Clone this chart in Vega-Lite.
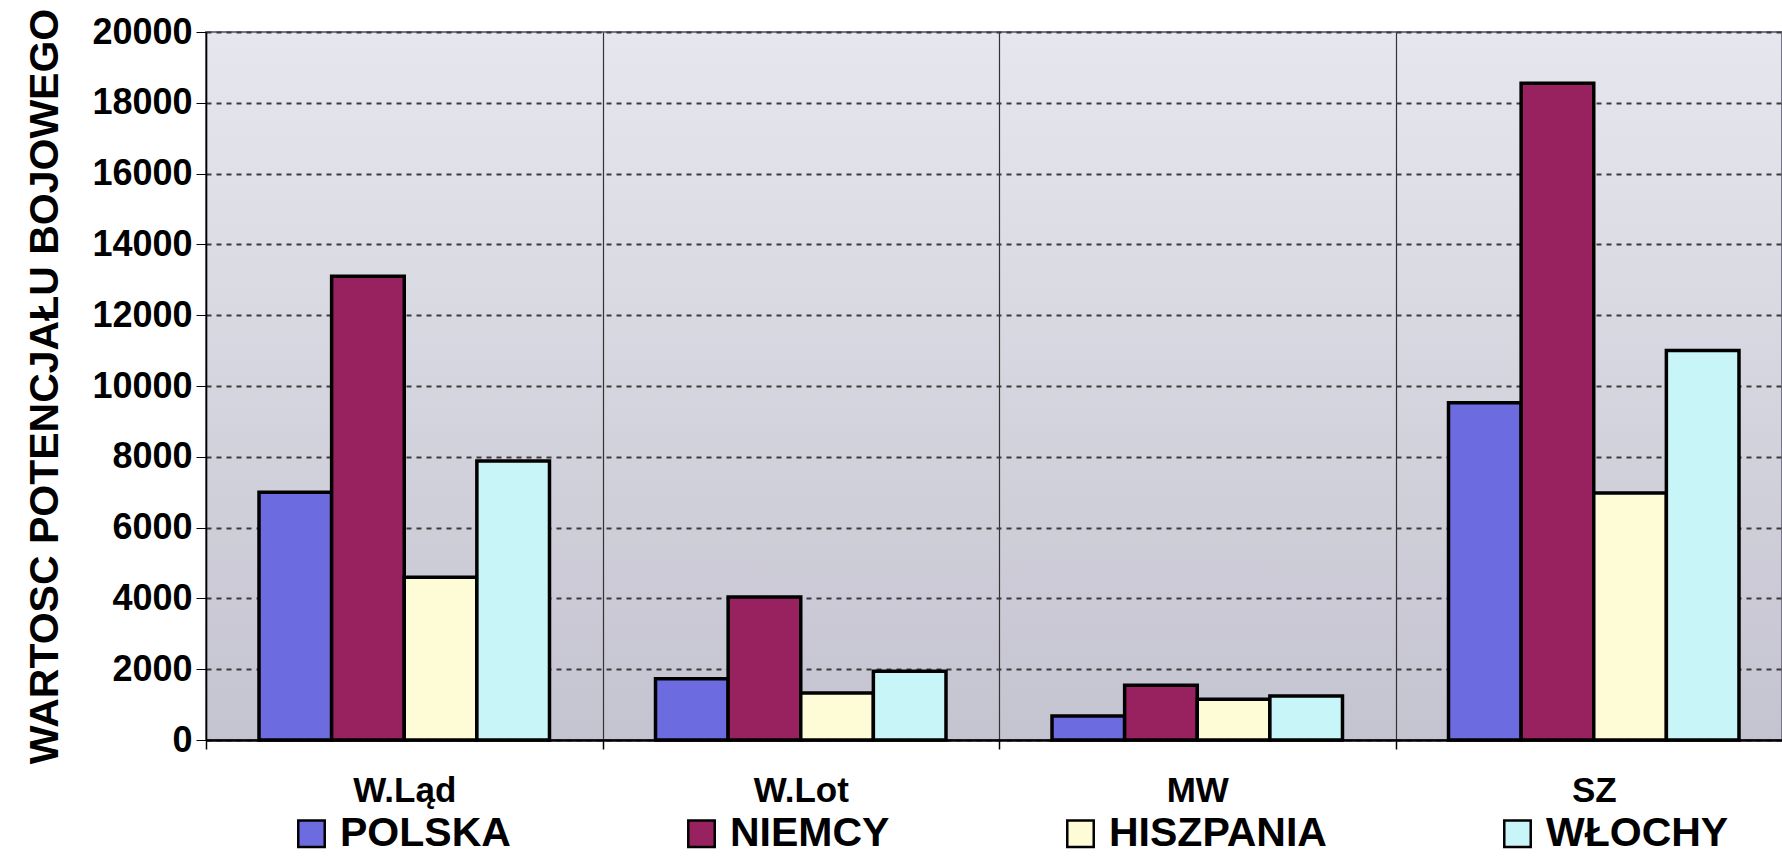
{
  "$schema": "https://vega.github.io/schema/vega-lite/v6.json",
  "autosize": "none",
  "width": 1576,
  "height": 708,
  "padding": {"left": 206, "top": 32, "right": 0, "bottom": 118},
  "background": "white",
  "config": {
    "font": "Liberation Sans",
    "view": {
      "fill": {"gradient": "linear", "x1": 0, "y1": 0, "x2": 0, "y2": 1, "stops": [{"offset": 0, "color": "#e6e7ee"}, {"offset": 1, "color": "#c4c3d0"}]},
      "stroke": "#77738a",
      "strokeWidth": 2
    }
  },
  "data": {
    "values": [
      {"kategoria": "W.Ląd", "kraj": "POLSKA", "wartosc": 7000},
      {"kategoria": "W.Ląd", "kraj": "NIEMCY", "wartosc": 13100},
      {"kategoria": "W.Ląd", "kraj": "HISZPANIA", "wartosc": 4600},
      {"kategoria": "W.Ląd", "kraj": "WŁOCHY", "wartosc": 7880},
      {"kategoria": "W.Lot", "kraj": "POLSKA", "wartosc": 1730},
      {"kategoria": "W.Lot", "kraj": "NIEMCY", "wartosc": 4040},
      {"kategoria": "W.Lot", "kraj": "HISZPANIA", "wartosc": 1330},
      {"kategoria": "W.Lot", "kraj": "WŁOCHY", "wartosc": 1940},
      {"kategoria": "MW", "kraj": "POLSKA", "wartosc": 680},
      {"kategoria": "MW", "kraj": "NIEMCY", "wartosc": 1550},
      {"kategoria": "MW", "kraj": "HISZPANIA", "wartosc": 1150},
      {"kategoria": "MW", "kraj": "WŁOCHY", "wartosc": 1240},
      {"kategoria": "SZ", "kraj": "POLSKA", "wartosc": 9530},
      {"kategoria": "SZ", "kraj": "NIEMCY", "wartosc": 18550},
      {"kategoria": "SZ", "kraj": "HISZPANIA", "wartosc": 6980},
      {"kategoria": "SZ", "kraj": "WŁOCHY", "wartosc": 11000}
    ]
  },
  "mark": {"type": "bar", "stroke": "black", "strokeWidth": 3.5},
  "encoding": {
    "x": {
      "field": "kategoria",
      "type": "nominal",
      "sort": ["W.Ląd", "W.Lot", "MW", "SZ"],
      "scale": {"range": [0, 1586], "paddingInner": 0, "paddingOuter": 0},
      "axis": {
        "title": null,
        "labelAngle": 0,
        "labelFont": "Liberation Sans",
        "labelFontWeight": "bold",
        "labelFontSize": 35,
        "labelColor": "black",
        "labelPadding": 24,
        "tickBand": "extent",
        "tickSize": 9,
        "tickColor": "black",
        "tickWidth": 1.5,
        "domainColor": "black",
        "domainWidth": 2.5,
        "grid": true,
        "gridColor": "#333333",
        "gridWidth": 1.2,
        "gridDash": []
      }
    },
    "xOffset": {
      "field": "kraj",
      "sort": ["POLSKA", "NIEMCY", "HISZPANIA", "WŁOCHY"],
      "scale": {"paddingInner": 0, "paddingOuter": 0.73}
    },
    "y": {
      "field": "wartosc",
      "type": "quantitative",
      "scale": {"domain": [0, 20000], "nice": false},
      "axis": {
        "title": "WARTOSC POTENCJAŁU BOJOWEGO",
        "titleFont": "Liberation Sans",
        "titleFontWeight": "bold",
        "titleFontSize": 41,
        "titleColor": "black",
        "titleX": -149,
        "titleBaseline": "alphabetic",
        "values": [0, 2000, 4000, 6000, 8000, 10000, 12000, 14000, 16000, 18000, 20000],
        "format": "d",
        "labelFont": "Liberation Sans",
        "labelFontWeight": "bold",
        "labelFontSize": 36,
        "labelColor": "black",
        "labelPadding": 4,
        "tickSize": 10,
        "tickColor": "black",
        "domainColor": "black",
        "domainWidth": 1.5,
        "grid": true,
        "gridColor": "#3a3a3a",
        "gridWidth": 1.8,
        "gridDash": [5, 5]
      }
    },
    "color": {
      "field": "kraj",
      "type": "nominal",
      "sort": ["POLSKA", "NIEMCY", "HISZPANIA", "WŁOCHY"],
      "scale": {
        "domain": ["POLSKA", "NIEMCY", "HISZPANIA", "WŁOCHY"],
        "range": ["#6c6ce0", "#98215f", "#fdfcd6", "#c8f5f8"]
      },
      "legend": {
        "title": null,
        "orient": "none",
        "legendX": 85,
        "legendY": 781,
        "direction": "horizontal",
        "columns": 4,
        "columnPadding": 170,
        "symbolType": "square",
        "symbolSize": 700,
        "symbolStrokeColor": "black",
        "symbolStrokeWidth": 2.5,
        "symbolOpacity": 1,
        "labelFont": "Liberation Sans",
        "labelFontWeight": "bold",
        "labelFontSize": 41,
        "labelColor": "black",
        "labelOffset": 8,
        "labelLimit": 0
      }
    }
  }
}
